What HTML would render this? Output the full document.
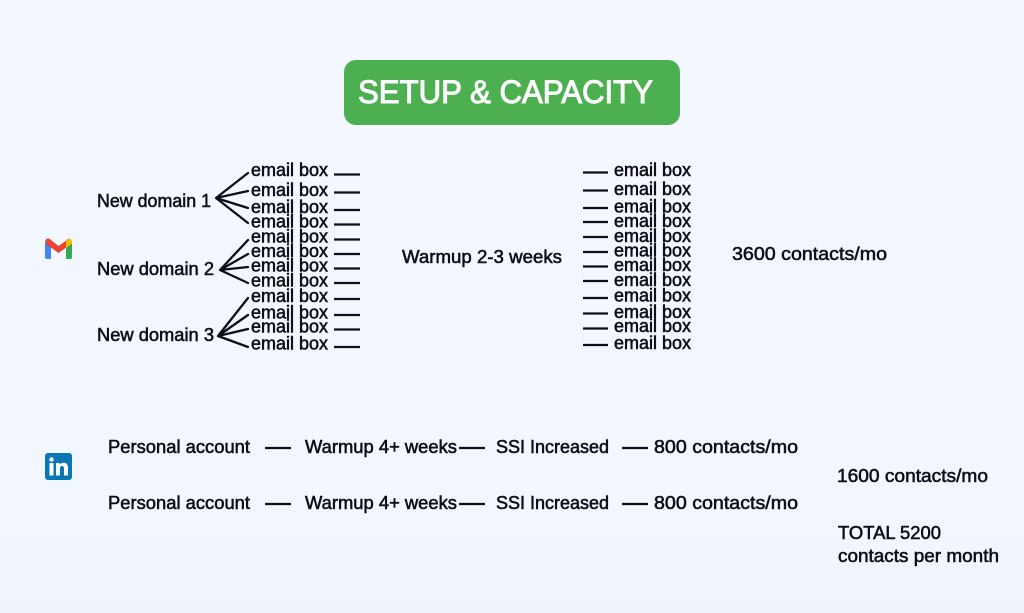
<!DOCTYPE html>
<html><head><meta charset="utf-8">
<style>
html,body{margin:0;padding:0;width:1024px;height:613px;overflow:hidden;background:#f2f6fe}
svg{display:block}
text{font-family:"Liberation Sans",sans-serif;font-size:18px;fill:#0e0f14;stroke:#0e0f14;stroke-width:.55px}
</style></head><body>
<svg width="1024" height="613" viewBox="0 0 1024 613" xmlns="http://www.w3.org/2000/svg">
<defs><linearGradient id="bg" x1="0" y1="0" x2="0" y2="1"><stop offset="0" stop-color="#f3f7ff"/><stop offset=".85" stop-color="#f2f6fe"/><stop offset="1" stop-color="#eff4fc"/></linearGradient></defs>
<rect width="1024" height="613" fill="url(#bg)"/>
<rect x="344" y="60" width="336" height="65" rx="12" fill="#4caf50"/>
<text x="358" y="103" textLength="295" lengthAdjust="spacingAndGlyphs" style="font-size:32px;fill:#fff;stroke:#fff;stroke-width:1px">SETUP &amp; CAPACITY</text>

<!-- gmail -->
<path d="M45 243 Q45 239 48 238.500 L51 240 V259 H47 Q45 259 45 257Z" fill="#4285f4"/>
<path d="M66 240 L69 238.500 Q72 239 72 243 V257 Q72 259 70 259 H66Z" fill="#34a853"/>
<path d="M46 239 L49 238.500 L58.500 246 L67 240 V247 L58.500 253 L46 244Z" fill="#ea4335"/>
<path d="M66 240.500 L69 238.500 Q72 239 72 243 V243.500 L66 248Z" fill="#fbbc04"/>
<!-- linkedin -->
<rect x="45" y="453" width="27" height="27" rx="3" fill="#0a77b5"/>
<circle cx="51.500" cy="459.500" r="2.200" fill="#fff"/>
<rect x="49.500" y="463" width="4" height="12.500" fill="#fff"/>
<path d="M56 463h3.700v1.800c.8-1.300 2.100-2.100 3.900-2.100 3.100 0 4.400 2 4.400 5v7.800h-4v-7c0-1.500-.5-2.500-1.900-2.500-1.500 0-2.200 1.100-2.200 2.600v6.900H56z" fill="#fff"/>

<g stroke="#0e0f14" stroke-width="2.300" fill="none" stroke-linecap="round">
<path d="M216 198 L248 173 M216 198 L248 191 M216 198 L248 208 M216 198 L248 223"/>
<path d="M220 270 L248 240 M220 270 L248 254 M220 270 L248 267 M220 270 L248 283"/>
<path d="M218 336 L248 298 M218 336 L248 315 M218 336 L248 329 M218 336 L248 347"/>
</g>
<g stroke="#0e0f14" stroke-width="2.200" fill="none">
<path d="M334 174.500H360 M334 192.500H360 M334 210H360 M334 224.500H360 M334 239.500H360 M334 254H360 M334 268.500H360 M334 283H360 M334 299H360 M334 315H360 M334 329.500H360 M334 347H360"/>
<path d="M583 172.500H608 M583 190.500H608 M583 208H608 M583 222H608 M583 237H608 M583 252H608 M583 266.500H608 M583 281H608 M583 298H608 M583 313.500H608 M583 328.500H608 M583 345H608"/>
<path d="M265 448H291 M459 448H485 M622 448H648 M265 504H291 M459 504H485 M622 504H648"/>
</g>

<text x="97" y="207" textLength="114" lengthAdjust="spacingAndGlyphs">New domain 1</text>
<text x="97" y="275" textLength="117" lengthAdjust="spacingAndGlyphs">New domain 2</text>
<text x="97" y="341" textLength="117" lengthAdjust="spacingAndGlyphs">New domain 3</text>

<text x="251" y="176" textLength="77" lengthAdjust="spacingAndGlyphs">email box</text>
<text x="251" y="196" textLength="77" lengthAdjust="spacingAndGlyphs">email box</text>
<text x="251" y="213" textLength="77" lengthAdjust="spacingAndGlyphs">email box</text>
<text x="251" y="227.500" textLength="77" lengthAdjust="spacingAndGlyphs">email box</text>
<text x="251" y="242.500" textLength="77" lengthAdjust="spacingAndGlyphs">email box</text>
<text x="251" y="257" textLength="77" lengthAdjust="spacingAndGlyphs">email box</text>
<text x="251" y="271.500" textLength="77" lengthAdjust="spacingAndGlyphs">email box</text>
<text x="251" y="286.500" textLength="77" lengthAdjust="spacingAndGlyphs">email box</text>
<text x="251" y="302" textLength="77" lengthAdjust="spacingAndGlyphs">email box</text>
<text x="251" y="318.500" textLength="77" lengthAdjust="spacingAndGlyphs">email box</text>
<text x="251" y="332.500" textLength="77" lengthAdjust="spacingAndGlyphs">email box</text>
<text x="251" y="349.500" textLength="77" lengthAdjust="spacingAndGlyphs">email box</text>

<text x="402" y="263" textLength="160" lengthAdjust="spacingAndGlyphs">Warmup 2-3 weeks</text>

<text x="614" y="176" textLength="77" lengthAdjust="spacingAndGlyphs">email box</text>
<text x="614" y="195" textLength="77" lengthAdjust="spacingAndGlyphs">email box</text>
<text x="614" y="212.500" textLength="77" lengthAdjust="spacingAndGlyphs">email box</text>
<text x="614" y="227" textLength="77" lengthAdjust="spacingAndGlyphs">email box</text>
<text x="614" y="242" textLength="77" lengthAdjust="spacingAndGlyphs">email box</text>
<text x="614" y="256.500" textLength="77" lengthAdjust="spacingAndGlyphs">email box</text>
<text x="614" y="271" textLength="77" lengthAdjust="spacingAndGlyphs">email box</text>
<text x="614" y="286" textLength="77" lengthAdjust="spacingAndGlyphs">email box</text>
<text x="614" y="301.500" textLength="77" lengthAdjust="spacingAndGlyphs">email box</text>
<text x="614" y="318" textLength="77" lengthAdjust="spacingAndGlyphs">email box</text>
<text x="614" y="332" textLength="77" lengthAdjust="spacingAndGlyphs">email box</text>
<text x="614" y="349" textLength="77" lengthAdjust="spacingAndGlyphs">email box</text>

<text x="732" y="260" textLength="155" lengthAdjust="spacingAndGlyphs">3600 contacts/mo</text>

<text x="108" y="453" textLength="142" lengthAdjust="spacingAndGlyphs">Personal account</text>
<text x="305" y="453" textLength="152" lengthAdjust="spacingAndGlyphs">Warmup 4+ weeks</text>
<text x="496" y="453" textLength="113" lengthAdjust="spacingAndGlyphs">SSI Increased</text>
<text x="654" y="453" textLength="144" lengthAdjust="spacingAndGlyphs">800 contacts/mo</text>

<text x="108" y="509" textLength="142" lengthAdjust="spacingAndGlyphs">Personal account</text>
<text x="305" y="509" textLength="152" lengthAdjust="spacingAndGlyphs">Warmup 4+ weeks</text>
<text x="496" y="509" textLength="113" lengthAdjust="spacingAndGlyphs">SSI Increased</text>
<text x="654" y="509" textLength="144" lengthAdjust="spacingAndGlyphs">800 contacts/mo</text>

<text x="837" y="482" textLength="151" lengthAdjust="spacingAndGlyphs">1600 contacts/mo</text>
<text x="838" y="539" textLength="103" lengthAdjust="spacingAndGlyphs">TOTAL 5200</text>
<text x="838" y="562" textLength="161" lengthAdjust="spacingAndGlyphs">contacts per month</text>
</svg>
</body></html>
